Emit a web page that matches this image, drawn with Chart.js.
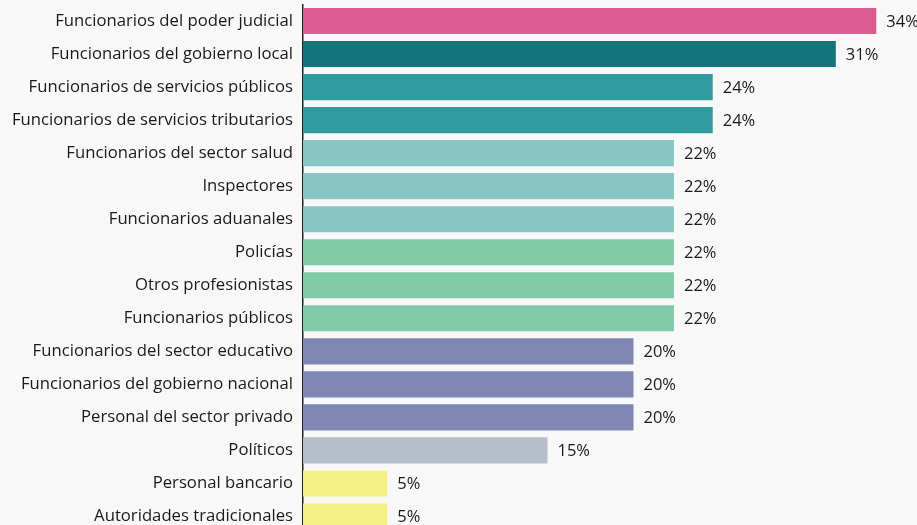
<!DOCTYPE html>
<html>
<head>
<meta charset="utf-8">
<script src="https://cdn.jsdelivr.net/npm/chart.js@4/dist/chart.umd.min.js"></script>
<style>
    html, body { margin: 0; padding: 0; background: #f8f8f8; overflow: hidden; }
    #wrap { position: absolute; left: 0; top: 0; width: 917px; height: 533px; }
</style>
</head>
<body>
<div id="wrap"><canvas id="chart"></canvas></div>
<script>
const categories = [
    'Funcionarios del poder judicial',
    'Funcionarios del gobierno local',
    'Funcionarios de servicios públicos',
    'Funcionarios de servicios tributarios',
    'Funcionarios del sector salud',
    'Inspectores',
    'Funcionarios aduanales',
    'Policías',
    'Otros profesionistas',
    'Funcionarios públicos',
    'Funcionarios del sector educativo',
    'Funcionarios del gobierno nacional',
    'Personal del sector privado',
    'Políticos',
    'Personal bancario',
    'Autoridades tradicionales'
];
const values = [34.0, 31.6, 24.3, 24.3, 22.0, 22.0, 22.0, 22.0, 22.0, 22.0, 19.6, 19.6, 19.6, 14.5, 5.0, 5.0];
const valueLabels = ['34%', '31%', '24%', '24%', '22%', '22%', '22%', '22%', '22%', '22%', '20%', '20%', '20%', '15%', '5%', '5%'];
const barColors = [
    '#dc5b90', '#15737b', '#2f9c9f', '#2f9c9f',
    '#89c5c2', '#89c5c2', '#89c5c2',
    '#82cba8', '#82cba8', '#82cba8',
    '#7f87b4', '#7f87b4', '#7f87b4',
    '#b5bfca', '#f6f185', '#f6f185'
];

const FONT = '"Open Sans", sans-serif';

// etiquetas de valor a la derecha de cada barra
const valueLabelPlugin = {
    id: 'valueLabels',
    afterDatasetsDraw(chart) {
        const ctx = chart.ctx;
        const meta = chart.getDatasetMeta(0);
        ctx.save();
        ctx.font = '16.5px ' + FONT;
        ctx.fillStyle = '#1a1a1a';
        ctx.textAlign = 'left';
        ctx.textBaseline = 'middle';
        meta.data.forEach((bar, i) => {
            ctx.fillText(valueLabels[i], bar.x + 10, bar.y + 1);
        });
        ctx.restore();
    }
};

new Chart(document.getElementById('chart'), {
    type: 'bar',
    data: {
        labels: categories,
        datasets: [{
            data: values,
            backgroundColor: barColors,
            borderWidth: 0,
            barPercentage: 0.79,
            categoryPercentage: 1
        }]
    },
    options: {
        indexAxis: 'y',
        responsive: true,
        maintainAspectRatio: false,
        animation: false,
        layout: { padding: { top: 4.5, right: 7, left: 0, bottom: 0 } },
        plugins: {
            legend: { display: false },
            tooltip: { enabled: false }
        },
        scales: {
            x: {
                display: false,
                min: 0,
                max: 36
            },
            y: {
                afterFit: scale => {
                    scale.width = 303;
                    scale.paddingTop = 0;
                    scale.paddingBottom = 0;
                },
                grid: { display: false, drawTicks: false },
                border: { display: true, color: '#222', width: 1.5 },
                ticks: {
                    padding: 10,
                    color: '#1a1a1a',
                    font: { family: FONT, size: 16.7 }
                }
            }
        }
    },
    plugins: [valueLabelPlugin]
});
</script>
</body>
</html>
